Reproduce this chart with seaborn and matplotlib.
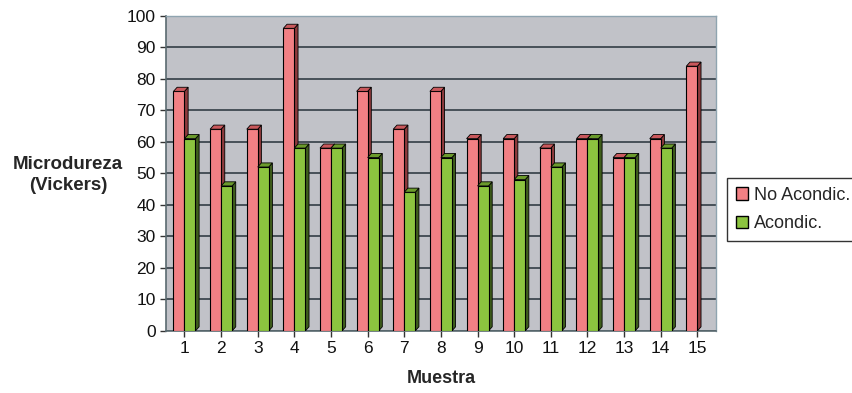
import numpy as np
import pandas as pd
import matplotlib
matplotlib.use("Agg")
import matplotlib.pyplot as plt
from matplotlib.patches import Polygon, Patch
import seaborn as sns

# Hardness per sample
muestras = [str(i) for i in range(1, 16)]
no_acondic = [76, 64, 64, 96, 58, 76, 64, 76, 61, 61, 58, 61, 55, 61, 84]
acondic = [61, 46, 52, 58, 58, 55, 44, 55, 46, 48, 52, 61, 55, 58, np.nan]
series = ["No Acondic.", "Acondic."]
y_ticks = list(range(0, 101, 10))

df = pd.DataFrame({
    "Muestra": muestras * 2,
    "Serie": [series[0]] * len(muestras) + [series[1]] * len(muestras),
    "Valor": no_acondic + acondic,
})

face = {series[0]: "#F28084", series[1]: "#8CC43F"}
side = {series[0]: "#8E3A3C", series[1]: "#3F5E1C"}
top = {series[0]: "#C9585C", series[1]: "#6B9A2C"}

sns.set_theme(style="white")
plt.rcParams["font.family"] = ["Liberation Sans", "DejaVu Sans"]

fig = plt.figure(figsize=(8.52, 3.93), dpi=100)
ax = fig.add_axes([0.195, 0.158, 0.645, 0.802])
ax.set_facecolor("#C1C2C8")

sns.barplot(data=df, x="Muestra", y="Valor", hue="Serie", palette=face,
            saturation=1, width=0.6, edgecolor="black", linewidth=0.8, ax=ax,
            legend=False, zorder=3)

ax.set_ylim(0, 100)
ax.set_xlim(-0.5, 14.5)
ax.set_yticks(y_ticks)
ax.yaxis.grid(True, color="#26323A", linewidth=1.1, zorder=0)
ax.set_axisbelow(True)

# darker side and top faces give the bars some depth
dx, dy = 0.1, 1.3
for container, name in zip(ax.containers, series):
    for bar in container:
        h = bar.get_height()
        if not np.isfinite(h) or h <= 0:
            continue
        x0 = bar.get_x()
        x1 = x0 + bar.get_width()
        ax.add_patch(Polygon([(x1, 0), (x1 + dx, dy), (x1 + dx, h + dy), (x1, h)],
                             closed=True, facecolor=side[name], edgecolor="black",
                             linewidth=0.6, zorder=2.9))
        ax.add_patch(Polygon([(x0, h), (x0 + dx, h + dy), (x1 + dx, h + dy), (x1, h)],
                             closed=True, facecolor=top[name], edgecolor="black",
                             linewidth=0.6, zorder=3.1))

for s in ["top", "right"]:
    ax.spines[s].set_color("#8FA4B0")
    ax.spines[s].set_linewidth(1.0)
for s in ["left", "bottom"]:
    ax.spines[s].set_color("#5A6A70")
    ax.spines[s].set_linewidth(1.2)

ax.tick_params(axis="both", which="both", length=4, width=1, color="#333333",
               labelsize=12.5, labelcolor="#111111", direction="out")
ax.tick_params(axis="y", left=True)
ax.tick_params(axis="x", bottom=True)

ax.set_xlabel("Muestra", fontsize=13, fontweight="bold", labelpad=10)
ax.set_ylabel("")
fig.text(0.080, 0.555, "Microdureza\n(Vickers)", ha="center", va="center",
         fontsize=13.5, fontweight="bold", linespacing=1.35)

handles = [Patch(facecolor=face[s], edgecolor="black", linewidth=1.0, label=s)
           for s in series]
leg = fig.legend(handles=handles, loc="upper left", bbox_to_anchor=(0.853, 0.548),
                 frameon=True, fontsize=13, handlelength=0.7, handleheight=0.7,
                 handletextpad=0.3, borderpad=0.5, labelspacing=0.65,
                 fancybox=False, borderaxespad=0)
leg.get_frame().set_edgecolor("black")
leg.get_frame().set_linewidth(1.0)

fig.savefig("out.png", dpi=100, facecolor="white")
